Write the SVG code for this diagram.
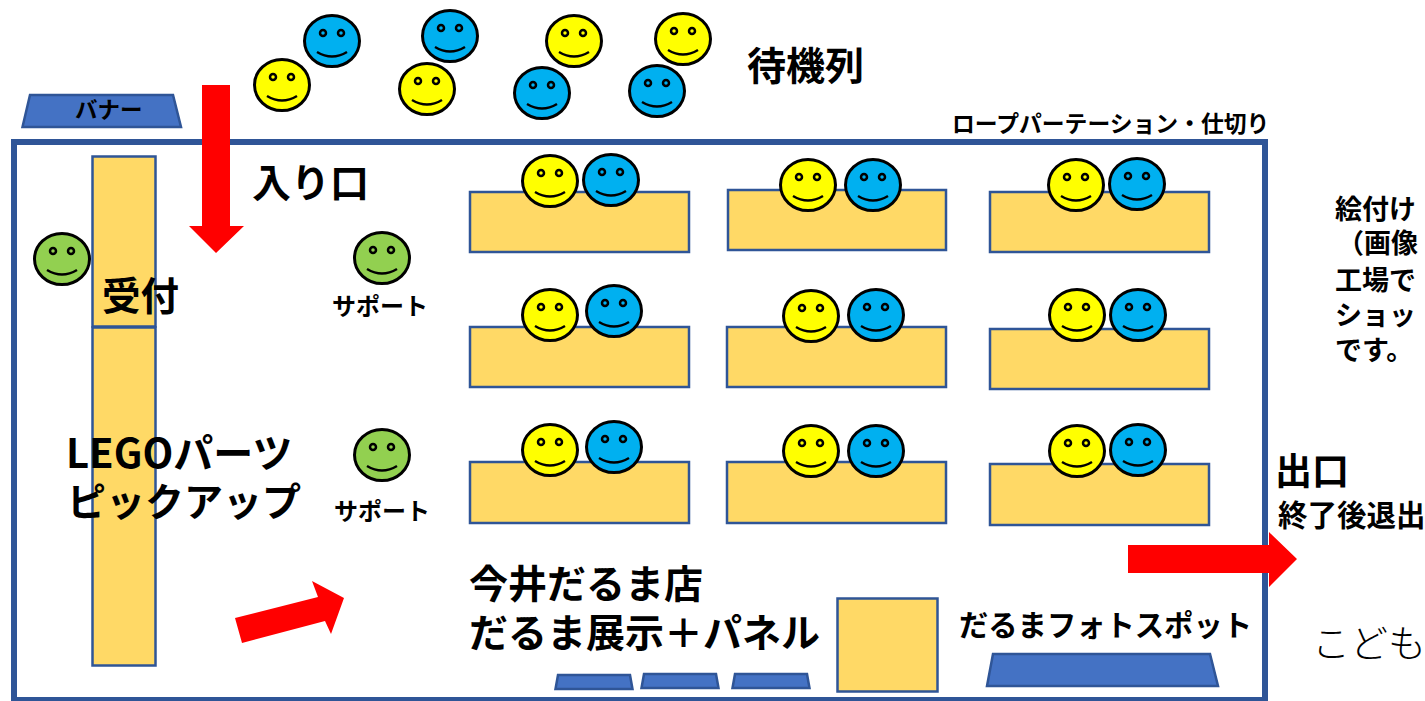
<svg xmlns="http://www.w3.org/2000/svg" width="1425" height="701" viewBox="0 0 1425 701">
<style>
text{font-family:"Noto Sans CJK JP","Noto Sans",sans-serif;font-weight:700;fill:#000}
.table{fill:#FFD966;stroke:#2F5597;stroke-width:2.5}
.blue{fill:#4472C4;stroke:#2F5597;stroke-width:2.5}
.arrow{fill:#FF0000}
.y{fill:#FFFF00}.b{fill:#00B0F0}.g{fill:#92D050}
.face{stroke:#000;stroke-width:3}
.line{fill:none;stroke:#000;stroke-width:2.5}
</style>
<defs>
<g id="face"><ellipse class="face" cx="0" cy="0" rx="27.500" ry="25.500"/><circle class="line" cx="-9" cy="-8" r="3"/><circle class="line" cx="9" cy="-8" r="3"/><path class="line" d="M-15 11Q0 20 15 11"/></g>
</defs>
<rect id="room" x="14" y="142" width="1251" height="558" fill="#fff" stroke="#2F5597" stroke-width="6"/>
<g id="banner"><path class="blue" d="M22.500 127L30 95H173L181 127Z"/><text x="75" y="118" font-size="22.500">バナー</text></g>
<g id="reception"><rect class="table" x="92.500" y="156.500" width="63" height="170"/></g>
<g id="parts"><rect class="table" x="92.500" y="327.500" width="63" height="338"/></g>
<g id="tables">
<rect id="t11" class="table" x="470" y="192" width="219" height="60"/>
<rect id="t12" class="table" x="728" y="190" width="218" height="60"/>
<rect id="t13" class="table" x="990" y="192" width="219" height="60"/>
<rect id="t21" class="table" x="470" y="327" width="219" height="60"/>
<rect id="t22" class="table" x="727" y="327" width="219" height="60"/>
<rect id="t23" class="table" x="990" y="329" width="219" height="60"/>
<rect id="t31" class="table" x="470" y="462" width="219" height="61"/>
<rect id="t32" class="table" x="727" y="462" width="219" height="61"/>
<rect id="t33" class="table" x="990" y="464" width="219" height="61"/>
</g>
<g id="faces">
<use href="#face" class="y" x="282" y="85"/><use href="#face" class="b" x="332" y="41"/>
<use href="#face" class="b" x="450" y="36"/><use href="#face" class="y" x="427" y="89"/>
<use href="#face" class="y" x="574" y="41"/><use href="#face" class="b" x="542" y="93"/>
<use href="#face" class="y" x="683" y="39"/><use href="#face" class="b" x="657" y="91"/>
<use href="#face" class="y" x="550" y="181"/><use href="#face" class="b" x="611" y="180"/>
<use href="#face" class="y" x="808" y="185"/><use href="#face" class="b" x="873" y="185"/>
<use href="#face" class="y" x="1076" y="185"/><use href="#face" class="b" x="1137" y="184"/>
<use href="#face" class="y" x="550" y="315"/><use href="#face" class="b" x="614" y="311"/>
<use href="#face" class="y" x="811" y="316"/><use href="#face" class="b" x="876" y="315"/>
<use href="#face" class="y" x="1077" y="315"/><use href="#face" class="b" x="1138" y="315"/>
<use href="#face" class="y" x="550" y="450"/><use href="#face" class="b" x="614" y="447"/>
<use href="#face" class="y" x="811" y="451"/><use href="#face" class="b" x="876" y="451"/>
<use href="#face" class="y" x="1077" y="451"/><use href="#face" class="b" x="1138" y="450"/>
<use href="#face" class="g" x="62" y="259"/><use href="#face" class="g" x="382" y="258"/><use href="#face" class="g" x="382" y="455"/>
</g>
<g id="connectors">
<path class="arrow" d="M202 85H230V226H244L216 253L189 226H202Z"/>
<path class="arrow" d="M1128 545H1269V532L1297 559L1269 587V573H1128Z"/>
<path class="arrow" d="M235 618L318 597L312 581L344 598L331 634L325 621L242 643Z"/>
</g>
<g id="panels">
<path class="blue" d="M555.500 689L558 675H630L632.500 689Z"/>
<path class="blue" d="M641.500 688L644 674H716L718.500 688Z"/>
<path class="blue" d="M732.500 688L735 674H807L809.500 688Z"/>
<rect class="table" x="837.500" y="598.500" width="100" height="93"/>
<path class="blue" d="M987 686L993 654H1210L1218 686Z"/>
</g>
<g id="labels">
<text x="747" y="80" font-size="39">待機列</text>
<text x="952" y="132" font-size="22.800">ロープパーテーション・仕切り</text>
<text x="252" y="197" font-size="39">入り口</text>
<text x="102" y="310" font-size="38.500">受付</text>
<text x="332" y="315" font-size="24">サポート</text>
<text x="334" y="520" font-size="24">サポート</text>
<text x="66" y="468" font-size="40">LEGOパーツ</text>
<text x="67" y="516" font-size="39">ピックアップ</text>
<text x="469" y="598" font-size="39">今井だるま店</text>
<text x="469" y="647" font-size="39">だるま展示＋パネル</text>
<text x="959" y="636" font-size="29.300">だるまフォトスポット</text>
<text x="1335" y="219" font-size="27">絵付け</text>
<text x="1337" y="253" font-size="27">（画像</text>
<text x="1335" y="290" font-size="27">工場で</text>
<text x="1335" y="325" font-size="27">ショッ</text>
<text x="1335" y="360" font-size="27">です。</text>
<text x="1275" y="485" font-size="37">出口</text>
<text x="1278" y="526" font-size="29.500">終了後退出</text>
<text x="1312" y="657" font-size="38" style="font-weight:300">こども</text>
</g>
</svg>
